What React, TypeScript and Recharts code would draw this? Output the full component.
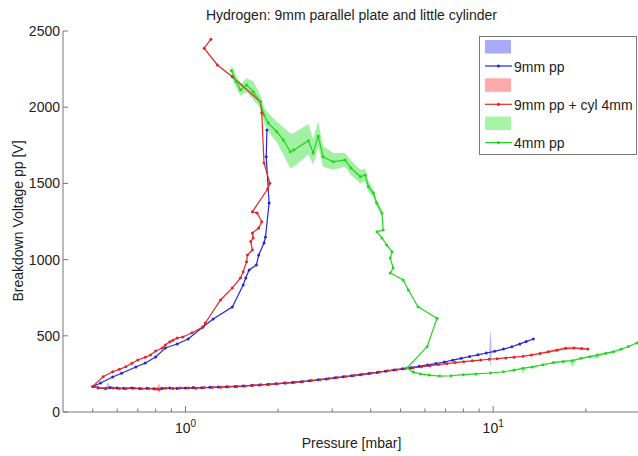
import React from "react";
import { ComposedChart, Line, Area, XAxis, YAxis } from "recharts";

// pressure [mbar], breakdown voltage pp [V] — path order as measured
const blue9mm: [number, number][] = [
  [1.84, 1850], [1.83, 1675], [1.87, 1371], [1.82, 1148], [1.8, 1109], [1.73, 1030], [1.7, 965],
  [1.61, 932], [1.57, 879], [1.54, 833], [1.42, 689], [1.23, 610], [1.14, 558], [1.02, 479],
  [0.94, 446], [0.86, 420], [0.8, 361], [0.74, 322], [0.69, 295], [0.62, 254], [0.58, 230],
  [0.53, 190], [0.5, 168],
  [0.52, 158], [0.55, 155], [0.57, 160], [0.6, 157], [0.63, 156], [0.67, 158], [0.71, 154],
  [0.75, 156], [0.79, 153], [0.84, 155], [0.89, 157], [0.94, 155], [1.0, 158], [1.06, 160],
  [1.13, 159], [1.2, 162], [1.28, 164], [1.36, 165], [1.45, 168], [1.54, 170], [1.64, 174],
  [1.74, 177], [1.85, 181], [1.97, 185], [2.1, 190], [2.23, 194], [2.38, 199], [2.53, 205],
  [2.7, 211], [2.87, 217], [3.06, 224], [3.26, 231], [3.47, 238], [3.7, 245], [3.94, 252],
  [4.2, 260], [4.47, 268], [4.76, 276], [5.07, 283], [5.4, 291], [5.75, 300], [6.12, 309],
  [6.52, 318], [6.94, 328], [7.39, 340], [7.87, 352], [8.38, 364], [8.92, 375], [9.5, 387],
  [10.1, 398], [10.8, 413], [11.5, 428], [12.2, 447], [12.8, 462], [13.5, 479],
];

const red9mmCyl: [number, number][] = [
  [1.21, 2446], [1.15, 2387], [1.27, 2277], [1.42, 2200], [1.75, 2036], [1.77, 1962], [1.8, 1634],
  [1.88, 1501], [1.85, 1463], [1.65, 1314], [1.71, 1306], [1.77, 1249], [1.73, 1207], [1.65, 1175],
  [1.66, 1142], [1.63, 1118], [1.65, 1063], [1.59, 1030], [1.58, 986], [1.54, 921], [1.51, 880],
  [1.42, 814], [1.3, 735], [1.16, 584], [1.14, 558], [1.05, 520], [0.98, 492], [0.94, 486],
  [0.91, 470], [0.89, 461], [0.86, 440], [0.84, 420], [0.8, 400], [0.77, 374], [0.74, 360],
  [0.7, 341], [0.67, 320], [0.64, 297], [0.61, 280], [0.58, 264], [0.54, 232], [0.5, 168],
  [0.52, 160], [0.55, 156], [0.58, 158], [0.61, 155], [0.64, 153], [0.68, 156], [0.72, 152],
  [0.76, 155], [0.8, 151], [0.82, 150], [0.86, 156], [0.91, 154], [0.96, 157], [1.02, 158],
  [1.08, 156], [1.15, 160], [1.22, 161], [1.3, 163], [1.38, 166], [1.47, 168], [1.56, 171],
  [1.66, 176], [1.76, 178], [1.87, 182], [1.99, 186], [2.12, 190], [2.26, 195], [2.41, 200],
  [2.57, 206], [2.74, 212], [2.92, 219], [3.11, 226], [3.31, 233], [3.53, 240], [3.76, 247],
  [4.0, 254], [4.26, 262], [4.54, 270], [4.84, 277], [5.15, 284], [5.49, 290], [5.85, 297],
  [6.23, 304], [6.64, 311], [7.07, 318], [7.53, 324], [8.02, 330], [8.55, 336], [9.11, 341],
  [9.7, 346], [10.3, 350], [11.0, 355], [11.7, 360], [12.5, 366], [13.3, 374], [14.2, 384],
  [15.1, 395], [16.1, 406], [17.2, 418], [18.3, 420], [19.4, 416], [20.3, 413],
];

const green4mm: [number, number][] = [
  [1.41, 2240], [1.46, 2170], [1.51, 2113], [1.58, 2146], [1.66, 2102], [1.75, 2036], [1.8, 1949],
  [1.86, 1896], [1.98, 1839], [2.08, 1785], [2.19, 1708], [2.25, 1719], [2.51, 1780], [2.6, 1700],
  [2.7, 1810], [2.8, 1675], [3.02, 1642], [3.3, 1654], [3.45, 1601], [3.7, 1544], [3.84, 1555],
  [3.93, 1478], [4.08, 1437], [4.18, 1371], [4.35, 1306], [4.39, 1194], [4.19, 1183], [4.35, 1142],
  [4.51, 1096], [4.69, 1052], [4.63, 1010], [4.73, 945], [4.63, 912], [5.1, 866], [5.3, 800],
  [5.7, 691], [6.57, 615], [6.1, 428], [5.25, 289], [5.5, 262], [5.8, 250], [6.2, 242], [6.7, 236],
  [7.3, 238], [8.0, 245], [8.8, 250], [9.8, 256], [10.8, 264], [11.7, 275], [12.5, 287], [13.4, 296],
  [14.5, 310], [15.7, 324], [16.9, 332], [18.1, 338], [19.3, 352], [20.6, 363], [21.8, 374],
  [23.2, 385], [24.6, 396], [26.0, 412], [27.5, 430], [29.3, 453], [31, 470],
];

// shaded spread: pressure, low, high (each list is one patch)
const blueSpreadA: [number, number, number][] = [[0.55, 155, 155], [0.56, 150, 197], [0.57, 160, 160]];
const blueSpreadB: [number, number, number][] = [[9.7, 387, 387], [9.8, 295, 550], [9.9, 390, 390]];
const redSpreadA: [number, number, number][] = [[0.8, 151, 151], [0.82, 125, 185], [0.84, 155, 155]];
const redSpreadB: [number, number, number][] = [
  [12.5, 363, 369], [13.3, 368, 380], [14.2, 377, 391], [15.1, 387, 403], [16.1, 397, 415],
  [17.2, 408, 428], [18.3, 410, 430], [19.4, 408, 424], [20.3, 408, 418],
];
const greenSpreadTop: [number, number, number][] = [
  [1.41, 2200, 2280], [1.46, 2130, 2210], [1.51, 2075, 2150], [1.58, 2100, 2190], [1.66, 2050, 2170],
  [1.75, 1995, 2080], [1.8, 1900, 2000], [1.86, 1840, 1960], [1.98, 1770, 1905], [2.08, 1690, 1870],
  [2.19, 1600, 1825], [2.25, 1610, 1830], [2.51, 1690, 1890], [2.6, 1620, 1790], [2.7, 1740, 1910],
  [2.8, 1610, 1745], [3.02, 1590, 1700], [3.3, 1610, 1700], [3.45, 1555, 1650], [3.7, 1500, 1590],
  [3.84, 1515, 1595], [3.93, 1445, 1515], [4.08, 1410, 1465], [4.18, 1350, 1395], [4.35, 1285, 1325],
];
const greenSpreadLow: [number, number, number][] = [
  [11.7, 273, 277], [12.3, 281, 287], [12.5, 252, 290], [12.8, 285, 293], [13.4, 292, 300],
  [14.5, 306, 314], [15.7, 320, 328], [16.9, 328, 336], [17.6, 331, 339], [18.1, 295, 342],
  [18.6, 337, 347], [19.3, 348, 356], [20.6, 359, 367], [21.8, 350, 378], [22.5, 373, 383],
  [23.2, 381, 389], [24.6, 392, 400],
];

const xTicks = [0.5, 0.6, 0.7, 0.8, 0.9, 1, 2, 3, 4, 5, 6, 7, 8, 9, 10, 20, 30];
const yTicks = [0, 500, 1000, 1500, 2000, 2500];

const BLUE = "#2626d8";
const RED = "#e22626";
const GREEN = "#1fd61f";
const AXIS = "#777";
const FONT = "'Liberation Sans', Arial, sans-serif";

const toLine = (d: [number, number][]) => d.map(([p, v]) => ({ p, v }));
const toBand = (d: [number, number, number][]) => d.map(([p, lo, hi]) => ({ p, band: [lo, hi] }));

const XTick = (props: any) => {
  const { x, y, payload } = props;
  const major = payload.value === 1 || payload.value === 10;
  return (
    <g>
      <line x1={x} x2={x} y1={y} y2={y - (major ? 6 : 3.5)} stroke={AXIS} />
      {major && (
        <text x={x} y={y + 21} textAnchor="middle" fontSize={14} fontFamily={FONT} fill="#222">
          10<tspan dy={-6} fontSize={10}>{payload.value === 1 ? "0" : "1"}</tspan>
        </text>
      )}
    </g>
  );
};

const YTick = (props: any) => {
  const { x, y, payload } = props;
  return (
    <g>
      <line x1={x} x2={x + 5} y1={y} y2={y} stroke={AXIS} />
      <text x={x - 3} y={y + 5} textAnchor="end" fontSize={14} fontFamily={FONT} fill="#222">
        {payload.value}
      </text>
    </g>
  );
};

const legendRows = [
  { name: "9mm pp", color: BLUE, patch: "#aaaafb" },
  { name: "9mm pp + cyl 4mm", color: RED, patch: "#fcaaaa" },
  { name: "4mm pp", color: GREEN, patch: "#a6f5a6" },
];

const LegendBox = () => (
  <svg width={158} height={119} style={{ position: "absolute", left: 479, top: 36 }}>
    <rect x={0.5} y={0.5} width={157} height={118} fill="#fff" stroke={AXIS} />
    {legendRows.map((r, i) => (
      <g key={r.name} transform={`translate(0, ${i * 38.3})`}>
        <rect x={6} y={4} width={26} height={13.5} fill={r.patch} />
        <line x1={6} x2={33} y1={30} y2={30} stroke={r.color} strokeWidth={1.2} />
        <circle cx={19.5} cy={30} r={1.6} fill={r.color} />
        <text x={35} y={35.5} fontSize={14} fontFamily={FONT} fill="#222">{r.name}</text>
      </g>
    ))}
  </svg>
);

const dot = (c: string) => ({ r: 1.5, fill: c, stroke: "none" });

const band = (d: [number, number, number][], fill: string, key: string) => (
  <Area key={key} data={toBand(d)} dataKey="band" type="linear" fill={fill} fillOpacity={0.55} stroke="none" activeDot={false} isAnimationActive={false} />
);

export default function App() {
  return (
    <div style={{ position: "absolute", left: 0, top: 0, width: 638, height: 456, overflow: "hidden", background: "#fff", fontFamily: FONT }}>
      <div style={{ position: "absolute", left: 0, top: 7, width: 703, textAlign: "center", fontSize: 14, lineHeight: "16px", color: "#222" }}>
        Hydrogen: 9mm parallel plate and little cylinder
      </div>
      <div style={{ position: "absolute", left: 0, top: 435, width: 703, textAlign: "center", fontSize: 14, lineHeight: "16px", color: "#222" }}>
        Pressure [mbar]
      </div>
      <div style={{ position: "absolute", left: 18, top: 221, transform: "translate(-50%, -50%) rotate(-90deg)", whiteSpace: "nowrap", fontSize: 14, lineHeight: "16px", color: "#222" }}>
        Breakdown Voltage pp [V]
      </div>
      <ComposedChart width={660} height={456} margin={{ top: 31, right: 20, bottom: 0, left: 0 }}>
        <XAxis
          dataKey="p"
          type="number"
          scale="log"
          domain={[0.4, 30]}
          allowDataOverflow
          ticks={xTicks}
          interval={0}
          height={44}
          tickSize={0}
          tickMargin={0}
          tickLine={false}
          axisLine={{ stroke: AXIS }}
          tick={<XTick />}
        />
        <YAxis
          type="number"
          domain={[0, 2500]}
          ticks={yTicks}
          width={63}
          tickSize={0}
          tickMargin={0}
          tickLine={false}
          axisLine={{ stroke: AXIS }}
          tick={<YTick />}
        />
        {band(blueSpreadA, "#8080ff", "ba")}
        {band(blueSpreadB, "#8080ff", "bb")}
        <Line data={toLine(blue9mm)} dataKey="v" type="linear" stroke={BLUE} strokeWidth={1.2} dot={dot(BLUE)} activeDot={false} isAnimationActive={false} />
        {band(redSpreadA, "#ff8080", "ra")}
        {band(redSpreadB, "#ff8080", "rb")}
        <Line data={toLine(red9mmCyl)} dataKey="v" type="linear" stroke={RED} strokeWidth={1.2} dot={dot(RED)} activeDot={false} isAnimationActive={false} />
        {band(greenSpreadTop, "#55e655", "ga")}
        {band(greenSpreadLow, "#55e655", "gb")}
        <Line data={toLine(green4mm)} dataKey="v" type="linear" stroke={GREEN} strokeWidth={1.2} dot={dot(GREEN)} activeDot={false} isAnimationActive={false} />
      </ComposedChart>
      <LegendBox />
    </div>
  );
}
